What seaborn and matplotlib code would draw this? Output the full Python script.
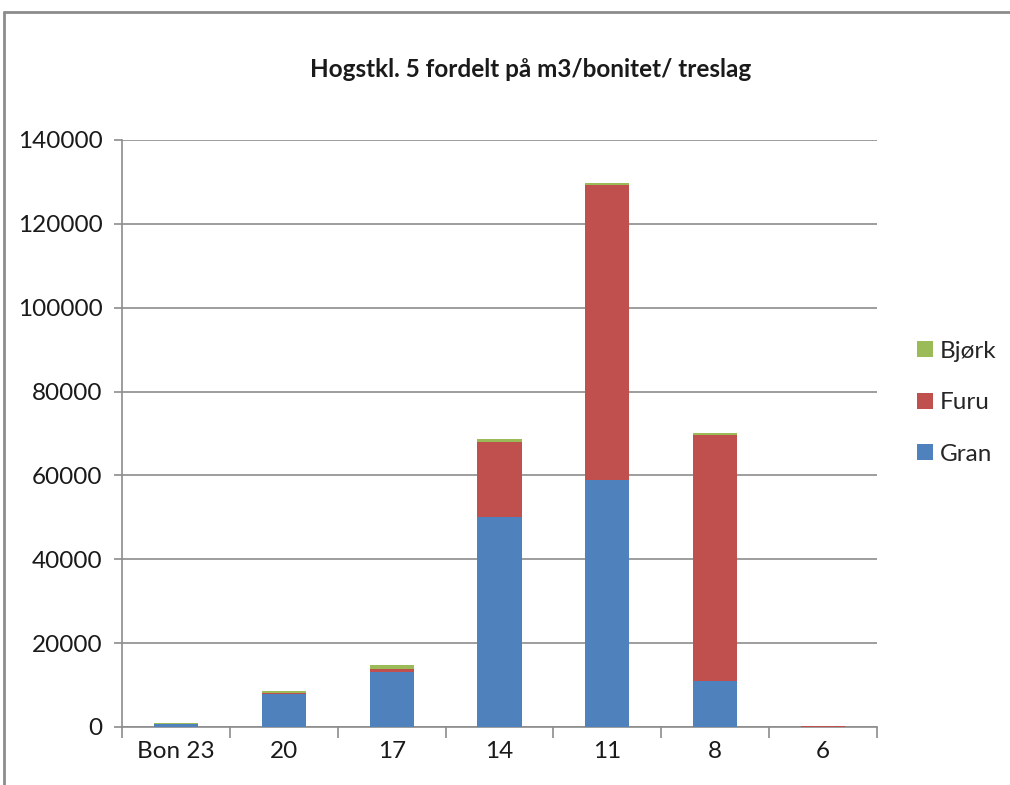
import numpy as np
import pandas as pd
import matplotlib
matplotlib.use("Agg")
import matplotlib.pyplot as plt
from matplotlib.lines import Line2D
from matplotlib.patches import Patch
from matplotlib.ticker import FixedLocator
import seaborn as sns

# Data
bonitet = ["Bon 23", "20", "17", "14", "11", "8", "6"]
gran = [700, 7800, 13200, 50000, 59000, 11000, 0]
furu = [50, 400, 600, 18000, 70200, 58700, 300]
bjork = [200, 400, 1000, 600, 600, 400, 0]

colors = {"Gran": "#4F81BD", "Furu": "#C0504D", "Bjørk": "#9BBB59"}

df = pd.DataFrame({"Bonitet": bonitet, "Gran": gran, "Furu": furu, "Bjørk": bjork})
df["Gran+Furu"] = df["Gran"] + df["Furu"]
df["Total"] = df["Gran+Furu"] + df["Bjørk"]

sns.set_style("white")
plt.rcParams["font.family"] = ["Lato", "DejaVu Sans"]

fig = plt.figure(figsize=(10.1, 7.85), dpi=100)
ax = fig.add_axes([0.1208, 0.0739, 0.8683 - 0.1208, 0.8217 - 0.0739])

# Stacked bars by overlaying cumulative totals
for col, color in [("Total", colors["Bjørk"]), ("Gran+Furu", colors["Furu"]), ("Gran", colors["Gran"])]:
    sns.barplot(data=df, x="Bonitet", y=col, color=color, width=0.41,
                saturation=1, ax=ax, zorder=3, linewidth=0)

ax.set_ylim(0, 140000)
ax.set_xlim(-0.5, 6.5)
ax.set_yticks(np.arange(0, 140001, 20000))
ax.yaxis.grid(True, color="#8c8c8c", linewidth=1.2, zorder=0)
ax.set_axisbelow(True)
ax.set_xlabel("")
ax.set_ylabel("")

for s in ["top", "right"]:
    ax.spines[s].set_visible(False)
for s in ["left", "bottom"]:
    ax.spines[s].set_color("#8c8c8c")
    ax.spines[s].set_linewidth(1.2)

ax.tick_params(axis="y", which="major", length=6, width=1.2, color="#8c8c8c",
               labelsize=17.5, pad=8, left=True)
ax.tick_params(axis="x", which="major", length=0, labelsize=17.5, pad=10)
ax.xaxis.set_minor_locator(FixedLocator(np.arange(-0.5, 7, 1.0)))
ax.tick_params(axis="x", which="minor", length=8, width=1.2, color="#8c8c8c", bottom=True)
for lab in ax.get_xticklabels() + ax.get_yticklabels():
    lab.set_color("#1a1a1a")

fig.text(0.525, 0.911, "Hogstkl. 5 fordelt på m3/bonitet/ treslag", ha="center",
         va="center", fontsize=17.5, fontweight="bold", color="#1a1a1a")

handles = [Patch(facecolor=colors[k], edgecolor="none") for k in ["Bjørk", "Furu", "Gran"]]
fig.legend(handles, ["Bjørk", "Furu", "Gran"], loc="center left",
           bbox_to_anchor=(0.908, 0.487), frameon=False, fontsize=17.5,
           handlelength=0.65, handleheight=0.65, handletextpad=0.3, labelspacing=1.25,
           borderaxespad=0, borderpad=0)

# Outer chart border (cropped at right and bottom)
fig.add_artist(Line2D([4 / 1010, 4 / 1010], [0, 1 - 12 / 785], color="#8c8c8c", linewidth=2,
                      transform=fig.transFigure))
fig.add_artist(Line2D([4 / 1010, 1], [1 - 12 / 785, 1 - 12 / 785], color="#8c8c8c", linewidth=2,
                      transform=fig.transFigure))

fig.savefig("out.png", dpi=100)
